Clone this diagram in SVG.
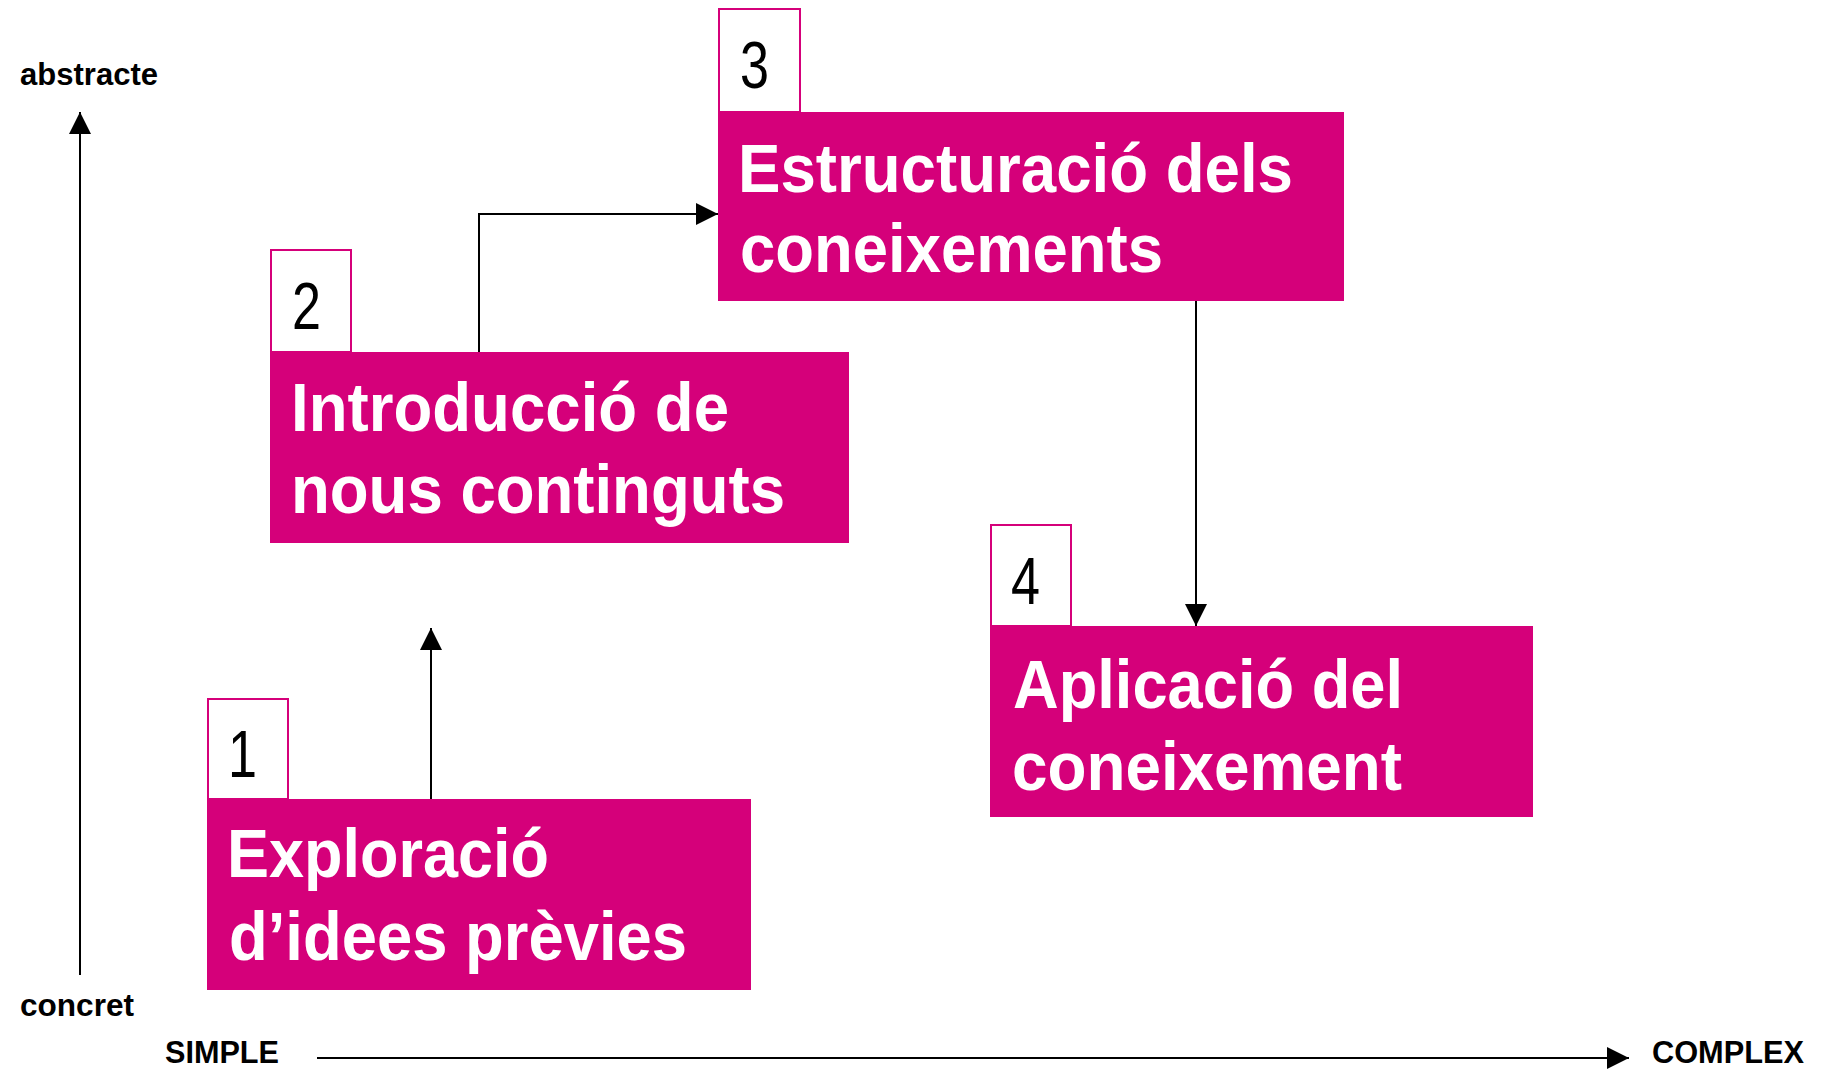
<svg xmlns="http://www.w3.org/2000/svg" width="1825" height="1069" viewBox="0 0 1825 1069">
<defs>
<style>
.num{fill:#fff;stroke:#D5007A;stroke-width:2}
.box{fill:#D5007A}
.digit{font-family:"Liberation Sans",Arial,sans-serif;font-size:66px;fill:#000}
.lbl{font-family:"Liberation Sans",Arial,sans-serif;font-weight:bold;font-size:68px;fill:#fff}
.axis{font-family:"Liberation Sans",Arial,sans-serif;font-weight:bold;font-size:32px;fill:#000}
.con{fill:none;stroke:#000;stroke-width:2}
</style>
<marker id="ah" markerUnits="userSpaceOnUse" viewBox="0 0 22 22" refX="22" refY="11" markerWidth="22" markerHeight="22" orient="auto">
<path d="M0,0 L22,11 L0,22 z" fill="#000"/>
</marker>
</defs>
<rect width="1825" height="1069" fill="#fff"/>
<g id="axes">
<text class="axis" x="20" y="85" textLength="138" lengthAdjust="spacingAndGlyphs">abstracte</text>
<text class="axis" x="20" y="1016" textLength="114" lengthAdjust="spacingAndGlyphs">concret</text>
<text class="axis" x="165" y="1063" textLength="114" lengthAdjust="spacingAndGlyphs">SIMPLE</text>
<text class="axis" x="1652" y="1063" textLength="152" lengthAdjust="spacingAndGlyphs">COMPLEX</text>
</g>
<g id="node1">
<rect class="num" x="208" y="699" width="80" height="100"/>
<rect class="box" x="207" y="799" width="544" height="191"/>
<text class="digit" x="228" y="777" textLength="29" lengthAdjust="spacingAndGlyphs">1</text>
<text class="lbl" x="227" y="877" textLength="322" lengthAdjust="spacingAndGlyphs">Exploració</text>
<text class="lbl" x="229" y="960" textLength="458" lengthAdjust="spacingAndGlyphs">d’idees prèvies</text>
</g>
<g id="node2">
<rect class="num" x="271" y="250" width="80" height="102"/>
<rect class="box" x="270" y="352" width="579" height="191"/>
<text class="digit" x="292" y="329" textLength="29" lengthAdjust="spacingAndGlyphs">2</text>
<text class="lbl" x="291" y="431" textLength="438" lengthAdjust="spacingAndGlyphs">Introducció de</text>
<text class="lbl" x="291" y="513" textLength="494" lengthAdjust="spacingAndGlyphs">nous continguts</text>
</g>
<g id="node3">
<rect class="num" x="719" y="9" width="81" height="103"/>
<rect class="box" x="718" y="112" width="626" height="189"/>
<text class="digit" x="740" y="88" textLength="29" lengthAdjust="spacingAndGlyphs">3</text>
<text class="lbl" x="738" y="192" textLength="555" lengthAdjust="spacingAndGlyphs">Estructuració dels</text>
<text class="lbl" x="740" y="272" textLength="423" lengthAdjust="spacingAndGlyphs">coneixements</text>
</g>
<g id="node4">
<rect class="num" x="991" y="525" width="80" height="101"/>
<rect class="box" x="990" y="626" width="543" height="191"/>
<text class="digit" x="1011" y="604" textLength="29" lengthAdjust="spacingAndGlyphs">4</text>
<text class="lbl" x="1013" y="708" textLength="390" lengthAdjust="spacingAndGlyphs">Aplicació del</text>
<text class="lbl" x="1012" y="790" textLength="390" lengthAdjust="spacingAndGlyphs">coneixement</text>
</g>
<g id="connectors">
<line class="con" x1="80" y1="975" x2="80" y2="112" marker-end="url(#ah)"/>
<line class="con" x1="317" y1="1058" x2="1629" y2="1058" marker-end="url(#ah)"/>
<line class="con" x1="431" y1="799" x2="431" y2="628" marker-end="url(#ah)"/>
<polyline class="con" points="479,352 479,214 718,214" marker-end="url(#ah)"/>
<line class="con" x1="1196" y1="301" x2="1196" y2="626" marker-end="url(#ah)"/>
</g>
</svg>
